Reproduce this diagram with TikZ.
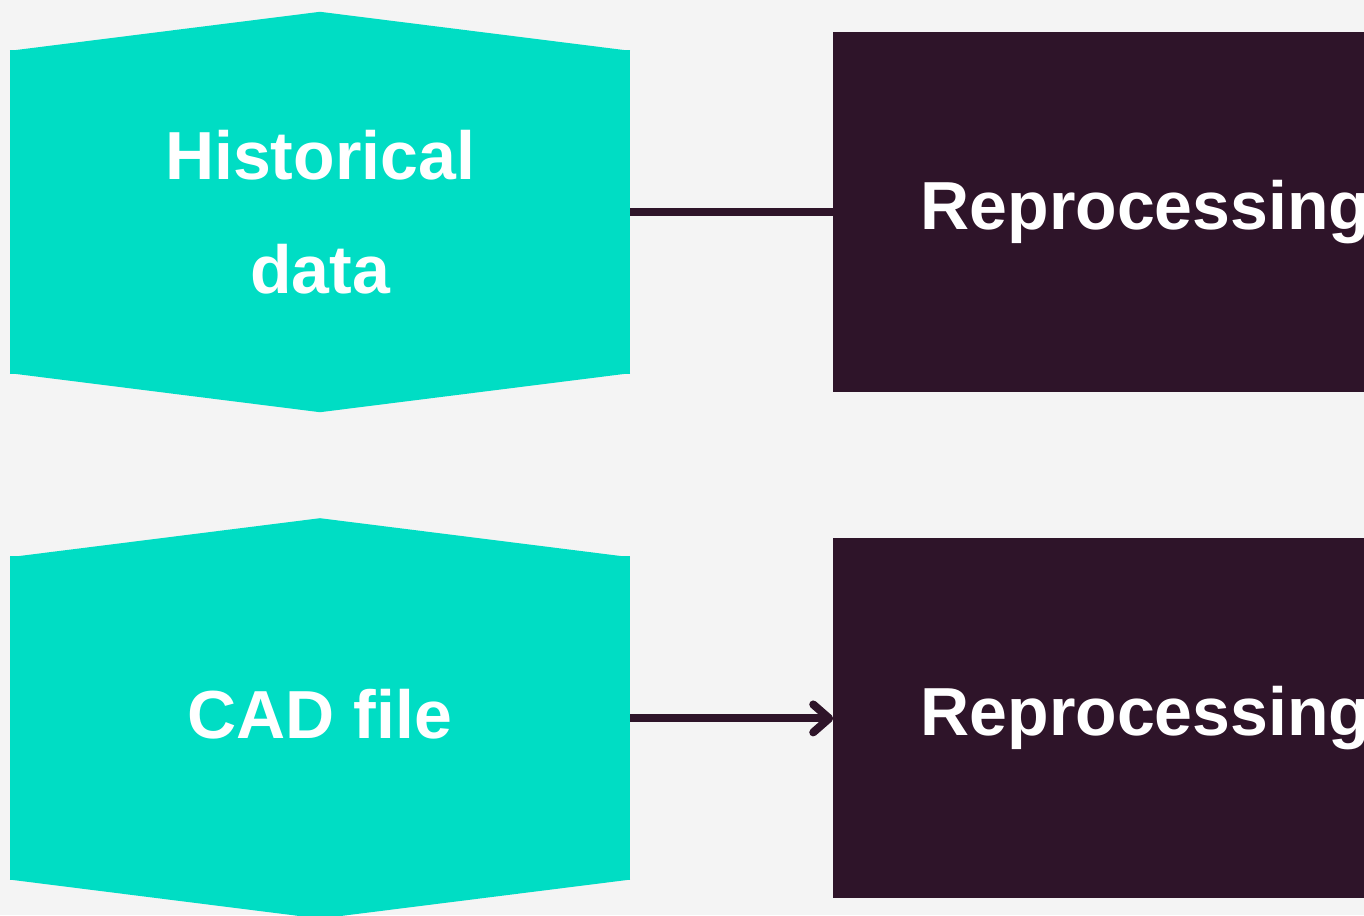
\documentclass[tikz,border=0pt]{standalone}
\usepackage{fontspec}
\setmainfont{Liberation Sans}
\usetikzlibrary{arrows.meta,positioning}
\definecolor{mint}{HTML}{00DDC4}
\definecolor{plum}{HTML}{2E1429}
\definecolor{paper}{HTML}{F4F4F4}

\begin{document}
\begin{tikzpicture}[
  x=1pt, y=-1pt,
  source/.style={fill=mint, text=white, align=center, inner sep=0pt, minimum width=620pt, minimum height=324pt, font=\fontsize{68}{114}\selectfont\bfseries},
  stage/.style={fill=plum, text=white, inner sep=0pt, minimum width=624pt, minimum height=360pt, font=\fontsize{68}{80}\selectfont\bfseries},
  link/.style={draw=plum, line width=8pt},
  >={Straight Barb[length=16pt, width=28pt, line cap=round, line join=round]}
]
  \path[use as bounding box, fill=paper] (0,0) rectangle (1364,915);
  \clip (0,0) rectangle (1364,915);

  % inputs on the left, with pointed top and bottom
  \node[source] (hist) at (320,212) {Historical\\ data};
  \node[source, text depth=10pt, below=182pt of hist] (cad) {CAD file};
  \foreach \n in {hist,cad} {
    \fill[mint] ([yshift=-1pt]\n.north west) -- ([yshift=38pt]\n.north) -- ([yshift=-1pt]\n.north east) -- cycle;
    \fill[mint] ([yshift=1pt]\n.south west) -- ([yshift=-38pt]\n.south) -- ([yshift=1pt]\n.south east) -- cycle;
  }

  \node[stage, right=203pt of hist] (reproA) {Reprocessing};
  \node[stage, right=203pt of cad] (reproB) {Reprocessing};

  \draw[link] (hist) -- (reproA);
  \draw[link, ->] (cad) -- (reproB);
\end{tikzpicture}
\end{document}
